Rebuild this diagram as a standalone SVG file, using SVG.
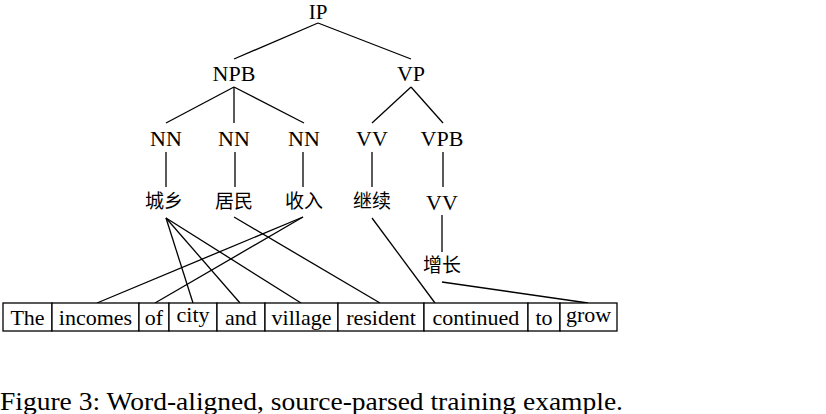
<svg xmlns="http://www.w3.org/2000/svg" width="826" height="414" viewBox="0 0 826 414">
<style>
.lbl{font-family:"Liberation Serif","DejaVu Serif",serif;font-size:22px;fill:#000;text-anchor:middle}
.zh{font-family:"Noto Sans CJK SC","Noto Sans CJK JP",sans-serif;font-size:19px;fill:#000;text-anchor:middle}
.ln{stroke:#000;stroke-width:1.3;fill:none}
.box{stroke:#000;stroke-width:1.3;fill:#fff}
.cap{font-family:"Liberation Serif","DejaVu Serif",serif;font-size:25px;fill:#000}
</style>
<rect width="826" height="414" fill="#fff"/>
<g id="connectors">
<line class="ln" x1="318" y1="23" x2="234" y2="59"/>
<line class="ln" x1="318" y1="23" x2="411" y2="59"/>
<line class="ln" x1="234" y1="87" x2="166" y2="123"/>
<line class="ln" x1="234" y1="87" x2="234" y2="123"/>
<line class="ln" x1="234" y1="87" x2="304" y2="123"/>
<line class="ln" x1="411" y1="87" x2="372" y2="123"/>
<line class="ln" x1="411" y1="87" x2="443" y2="123"/>
<line class="ln" x1="166" y1="152" x2="166" y2="187"/>
<line class="ln" x1="235" y1="152" x2="235" y2="187"/>
<line class="ln" x1="303" y1="152" x2="303" y2="187"/>
<line class="ln" x1="372" y1="152" x2="372" y2="187"/>
<line class="ln" x1="443" y1="152" x2="443" y2="187"/>
<line class="ln" x1="442" y1="215" x2="442" y2="252"/>
<line class="ln" x1="166" y1="218" x2="193" y2="303"/>
<line class="ln" x1="166" y1="218" x2="240" y2="303"/>
<line class="ln" x1="166" y1="218" x2="301" y2="303"/>
<line class="ln" x1="303" y1="217" x2="97" y2="303"/>
<line class="ln" x1="303" y1="217" x2="155" y2="303"/>
<line class="ln" x1="234" y1="217" x2="380" y2="303"/>
<line class="ln" x1="372" y1="218" x2="435" y2="303"/>
<line class="ln" x1="442" y1="282" x2="588" y2="303"/>
</g>
<g id="IP"><text class="lbl" x="318" y="19" style="font-size:21px">IP</text></g>
<g id="NPB"><text class="lbl" x="234" y="81">NPB</text></g>
<g id="VP"><text class="lbl" x="411" y="81">VP</text></g>
<g id="NN1"><text class="lbl" x="166" y="146">NN</text></g>
<g id="NN2"><text class="lbl" x="234" y="146">NN</text></g>
<g id="NN3"><text class="lbl" x="304" y="146">NN</text></g>
<g id="VV1"><text class="lbl" x="372" y="146">VV</text></g>
<g id="VPB"><text class="lbl" x="442" y="146">VPB</text></g>
<g id="zh-chengxiang"><text class="zh" x="164" y="208">城乡</text></g>
<g id="zh-jumin"><text class="zh" x="234" y="208">居民</text></g>
<g id="zh-shouru"><text class="zh" x="304" y="208">收入</text></g>
<g id="zh-jixu"><text class="zh" x="372" y="208">继续</text></g>
<g id="VV2"><text class="lbl" x="442" y="210">VV</text></g>
<g id="zh-zengzhang"><text class="zh" x="442" y="272">增长</text></g>
<g id="words">
<rect class="box" x="3" y="303" width="49" height="28"/>
<rect class="box" x="52" y="303" width="87" height="28"/>
<rect class="box" x="139" y="303" width="30" height="28"/>
<rect class="box" x="169" y="303" width="48" height="28"/>
<rect class="box" x="217" y="303" width="48" height="28"/>
<rect class="box" x="265" y="303" width="73" height="28"/>
<rect class="box" x="338" y="303" width="86" height="28"/>
<rect class="box" x="424" y="303" width="104" height="28"/>
<rect class="box" x="528" y="303" width="32" height="28"/>
<rect class="box" x="560" y="303" width="57" height="28"/>
<text class="lbl" x="27.5" y="325">The</text>
<text class="lbl" x="95.5" y="325">incomes</text>
<text class="lbl" x="154" y="325">of</text>
<text class="lbl" x="193" y="321.5">city</text>
<text class="lbl" x="241" y="325">and</text>
<text class="lbl" x="301.5" y="325">village</text>
<text class="lbl" x="381" y="325">resident</text>
<text class="lbl" x="476" y="325">continued</text>
<text class="lbl" x="544" y="325">to</text>
<text class="lbl" x="588.5" y="321.5">grow</text>
</g>
<text class="cap" x="0" y="410" textLength="623" lengthAdjust="spacingAndGlyphs">Figure 3:  Word-aligned, source-parsed training example.</text>
</svg>
